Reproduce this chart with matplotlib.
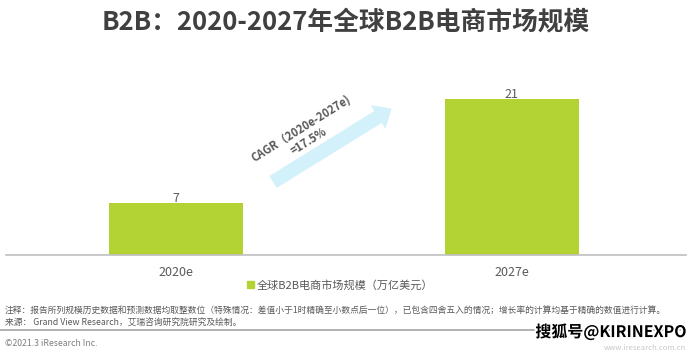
import matplotlib
matplotlib.use("Agg")
import matplotlib.pyplot as plt
import matplotlib.patheffects as pe
from matplotlib.patches import FancyArrow, Rectangle
from matplotlib.transforms import IdentityTransform

plt.rcParams['font.family'] = ['Noto Sans CJK SC', 'DejaVu Sans']

years = ['2020e', '2027e']
market_size = [7, 21]
series_name = '全球B2B电商市场规模（万亿美元）'
title = 'B2B：2020-2027年全球B2B电商市场规模'
cagr_text = 'CAGR（2020e-2027e)\n=17.5%'
note_lines = [
    '注释：报告所列规模历史数据和预测数据均取整数位（特殊情况：差值小于1时精确至小数点后一位），已包含四舍五入的情况；增长率的计算均基于精确的数值进行计算。',
    '来源： Grand View Research，艾瑞咨询研究院研究及绘制。',
]
copyright_text = '©2021.3 iResearch Inc.'
site_text = 'www.iresearch.com.cn'
watermark = '搜狐号@KIRINEXPO'

bar_color = '#b3d234'
text_gray = '#595959'

W, H = 690, 354
fig = plt.figure(figsize=(W / 100, H / 100), dpi=100)

# axes: baseline at y=255px, spans x 6..686
ax = fig.add_axes([6 / W, (H - 255) / H, 680 / W, 178 / H])
x = range(len(years))
bars = ax.bar(x, market_size, width=0.40, color=bar_color)
ax.set_xlim(-0.506, 1.518)
ax.set_ylim(0, 24)
for b, v in zip(bars, market_size):
    ax.text(b.get_x() + b.get_width() / 2, v - 0.25, str(v), ha='center', va='bottom',
            fontsize=9, color=text_gray)
ax.set_xticks(list(x))
ax.set_xticklabels(years, fontsize=9, color=text_gray)
ax.tick_params(axis='x', length=0, pad=8)
ax.set_yticks([])
for s in ['top', 'right', 'left']:
    ax.spines[s].set_visible(False)
ax.spines['bottom'].set_color('#bfbfbf')
ax.spines['bottom'].set_linewidth(1.2)

# legend
fig.add_artist(Rectangle((247 / W, (H - 288) / H), 7 / W, 7 / H, color=bar_color,
                         transform=fig.transFigure))
fig.text(257 / W, (H - 285) / H, series_name, fontsize=8, color=text_gray, va='center')

# title
fig.text(346 / W, (H - 22) / H, title, fontsize=18.5, fontweight='bold', color='#404040',
         ha='center', va='center')

# CAGR arrow
fig.add_artist(FancyArrow(273, H - 182, 105, 65, width=14, head_width=28,
                          head_length=16, color='#d3f1fa', lw=0,
                          transform=IdentityTransform()))
fig.text(305 / W, (H - 135) / H, cagr_text, fontsize=8, fontweight='bold', color=text_gray,
         ha='center', va='center', rotation=32, rotation_mode='anchor', linespacing=1.2)

# footnotes
fig.text(5 / W, (H - 310) / H, note_lines[0], fontsize=6.3, color=text_gray, va='center')
fig.text(5 / W, (H - 322) / H, note_lines[1], fontsize=6.3, color=text_gray, va='center')
fig.add_artist(plt.Line2D([0, 680 / W], [(H - 330) / H] * 2, color='#a6a6a6', lw=1.2))
fig.text(5 / W, (H - 343) / H, copyright_text, fontsize=6.3, color='#7f7f7f', va='center')
fig.text(686 / W, (H - 348) / H, site_text, fontsize=5.5, color='#c8c8c8', va='center', ha='right')
fig.text(687 / W, (H - 332) / H, watermark, fontsize=11.5, fontweight='bold', color='black',
         va='center', ha='right',
         path_effects=[pe.withStroke(linewidth=2.5, foreground='white')])

fig.savefig('out.png', dpi=100)
